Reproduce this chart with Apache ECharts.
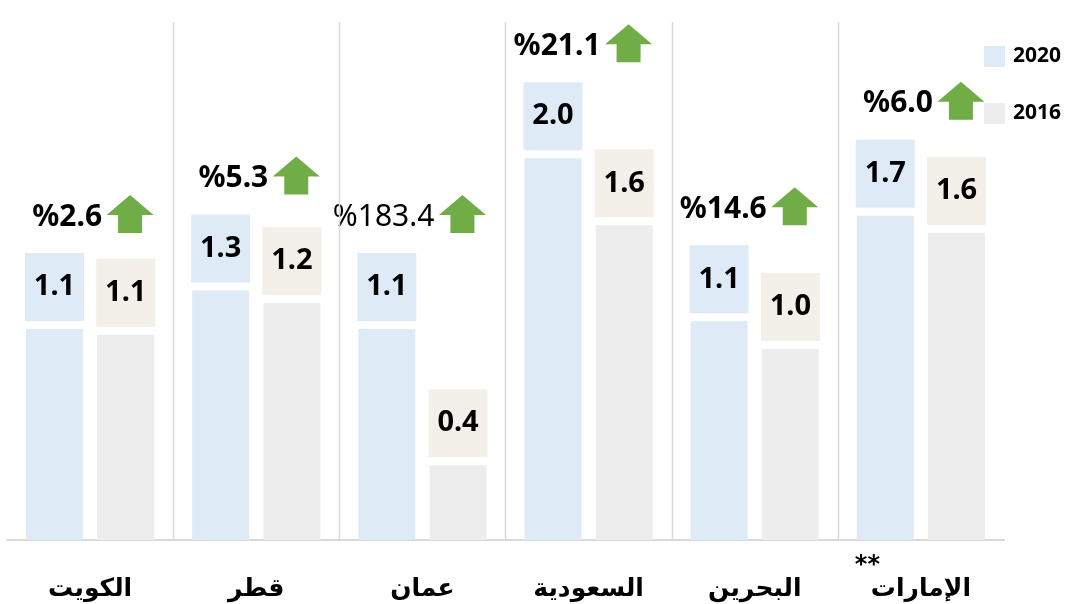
<!DOCTYPE html>
<html>
<head>
<meta charset="utf-8">
<script src="https://cdn.jsdelivr.net/npm/echarts@6/dist/echarts.min.js"></script>
<style>
  html, body { margin: 0; padding: 0; background: #fff; }
  #chart { width: 1067px; height: 604px; }
</style>
</head>
<body>
<div id="chart"></div>
<script>
// الدول من اليسار الى اليمين كما في الصورة
const countries = ['الكويت', 'قطر', 'عمان', 'السعودية', 'البحرين', 'الإمارات']
const notes = ['', '', '', '', '', '**']
const values2020 = [1.10, 1.30, 1.10, 1.99, 1.14, 1.69]
const values2016 = [1.07, 1.235, 0.39, 1.64, 0.995, 1.60]
const changePct = [2.6, 5.3, 183.4, 21.1, 14.6, 6.0]

const blue = '#DEEBF7'
const gray = '#EDEDED'
const cream = '#F3F0EA'
const green = '#70AD47'

const chart = echarts.init(document.getElementById('chart'))

const boxLabel = (bg) => ({
  show: true,
  position: 'top',
  distance: 8,
  width: 59,
  height: 68,
  lineHeight: 68,
  align: 'center',
  backgroundColor: bg,
  color: '#000',
  fontFamily: 'Noto Sans',
  fontWeight: 'bold',
  fontSize: 29,
  formatter: (p) => p.value.toFixed(1)
})

// نسبة التغير مع السهم الاخضر فوق كل دولة
const renderChange = (params, api) => {
  const idx = api.value(0)
  const top = api.coord([idx, api.value(1)])
  const cx = top[0]
  const ty = top[1] - 112
  const ax = cx + 40
  const children = [
    {
      type: 'text',
      style: {
        text: '%' + api.value(2).toFixed(1),
        x: cx + 12,
        y: ty,
        align: 'right',
        verticalAlign: 'middle',
        fill: '#000',
        fontFamily: 'Noto Sans',
        fontSize: 30,
        fontWeight: idx === 2 ? 'normal' : 'bold'
      }
    },
    {
      type: 'polygon',
      shape: {
        points: [
          [ax, ty - 22], [ax + 23.5, ty - 2], [ax + 12, ty - 2], [ax + 12, ty + 16],
          [ax - 12, ty + 16], [ax - 12, ty - 2], [ax - 23.5, ty - 2]
        ]
      },
      style: { fill: green }
    }
  ]
  if (idx > 0) {
    const sx = Math.round(cx - api.size([1, 0])[0] / 2) + 0.5
    children.push({
      type: 'line',
      shape: { x1: sx, y1: params.coordSys.y, x2: sx, y2: params.coordSys.y + params.coordSys.height },
      style: { stroke: '#D9D9D9', lineWidth: 1.5 }
    })
  }
  return { type: 'group', children }
}

const option = {
  animation: false,
  legend: {
    data: ['2020', '2016'],
    orient: 'vertical',
    left: 984,
    top: 46,
    padding: 0,
    itemWidth: 21,
    itemHeight: 21,
    itemGap: 36,
    icon: 'rect',
    textStyle: { color: '#000', fontFamily: 'Noto Sans', fontWeight: 'bold', fontSize: 21, padding: [0, 0, 0, 3] }
  },
  grid: { left: 7, right: 63, top: 22, bottom: 64 },
  xAxis: {
    type: 'category',
    data: countries,
    axisLine: { lineStyle: { color: '#D9D9D9', width: 2 } },
    axisTick: { show: false },
    splitLine: { show: false },
    axisLabel: {
      interval: 0,
      margin: 17,
      formatter: (v, i) => '{s|' + (notes[i] || ' ') + '}\n{n|' + v + '}',
      rich: {
        s: { fontFamily: 'DejaVu Sans', fontWeight: 'bold', fontSize: 24, lineHeight: 18, color: '#000', padding: [0, 107, 0, 0] },
        n: { fontFamily: 'DejaVu Sans', fontWeight: 'bold', fontSize: 25, lineHeight: 28, color: '#000' }
      }
    }
  },
  yAxis: {
    type: 'value',
    min: 0,
    max: 2.7,
    show: false,
    splitLine: { show: false }
  },
  series: [
    {
      name: '2020',
      type: 'bar',
      data: values2020,
      barWidth: 57,
      barGap: '25%',
      itemStyle: { color: blue },
      label: boxLabel(blue)
    },
    {
      name: '2016',
      type: 'bar',
      data: values2016,
      barWidth: 57,
      barGap: '25%',
      itemStyle: { color: gray },
      label: boxLabel(cream)
    },
    {
      name: 'change',
      type: 'custom',
      renderItem: renderChange,
      data: countries.map((c, i) => [i, values2020[i], changePct[i]]),
      z: 5,
      silent: true
    }
  ]
}

chart.setOption(option)
</script>
</body>
</html>
